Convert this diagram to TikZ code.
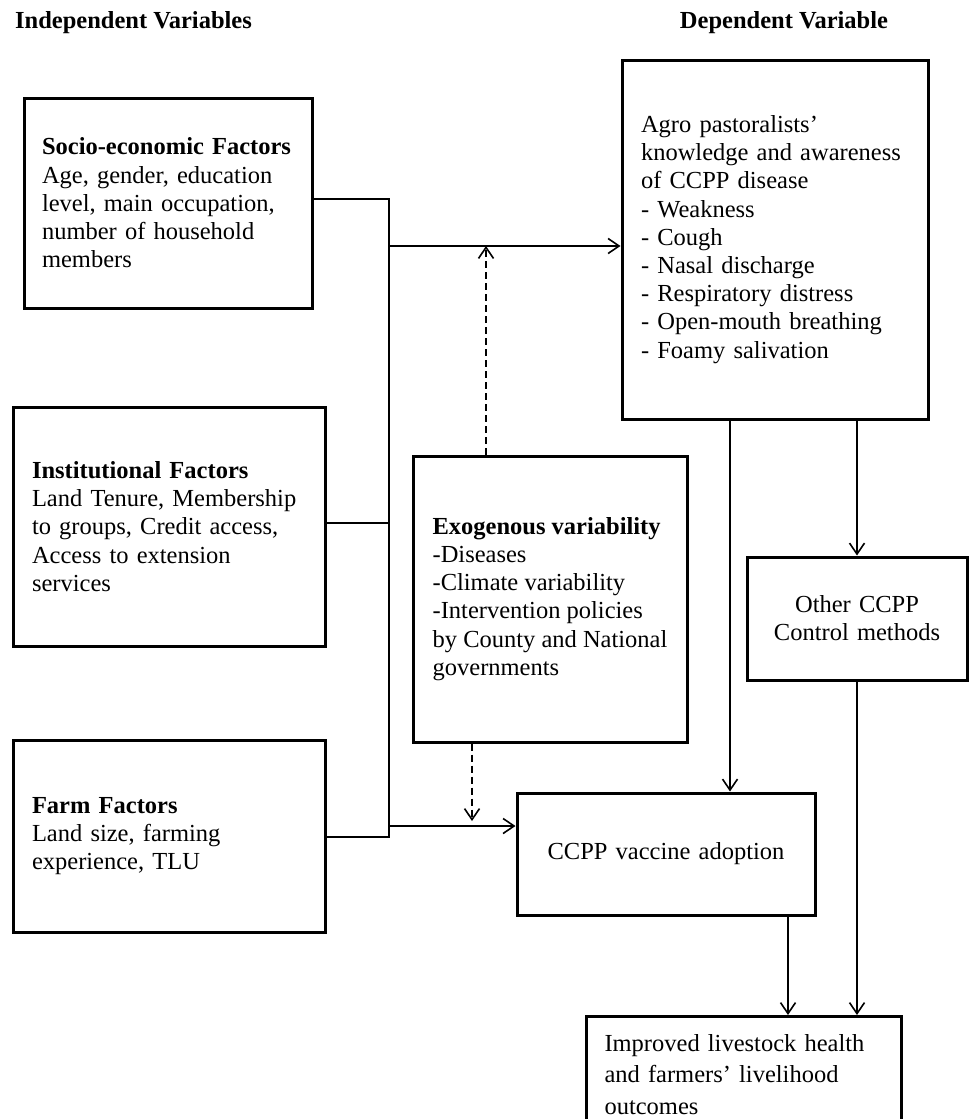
\documentclass[tikz,border=0pt]{standalone}
\usepackage{fontspec}
\setmainfont{Liberation Serif}
\usetikzlibrary{arrows.meta, positioning}

\begin{document}
\begin{tikzpicture}[x=1pt, y=-1pt,
    font=\fontsize{24.5}{28.2}\selectfont,
    box/.style={draw, line width=3pt, align=left, inner xsep=18pt, inner ysep=0pt},
    head/.style={font=\fontsize{24.5}{28.2}\selectfont\bfseries, inner sep=0pt},
    link/.style={line width=1.6pt},
    arr/.style={-{Straight Barb[length=11pt,width=15pt]}, line width=1.6pt},
    dasharr/.style={arr, dash pattern=on 7pt off 4pt}
  ]
  \useasboundingbox (0,0) rectangle (970,1119);
  % headings
  \node[head, anchor=west] (indep) at (15,23) {Independent Variables};
  \node[head] (dep) at (784,23) {Dependent Variable};
  % independent variables
  \node[box, text width=252pt, minimum height=210pt] (socio) at (168,203)
    {\textbf{Socio-economic Factors}\\ Age, gender, education\\ level, main occupation,\\ number of household\\ members};
  \node[box, text width=274pt, inner xsep=19pt, minimum height=239pt] (inst) at (169,526.5)
    {\textbf{Institutional Factors}\\ Land Tenure, Membership\\ to groups, Credit access,\\ Access to extension\\ services};
  \node[box, text width=274pt, inner xsep=19pt, minimum height=192pt] (farm) at (169,836)
    {\textbf{Farm Factors}\\ Land size, farming\\ experience, TLU};
  \node[box, minimum width=274pt, minimum height=286pt] (exo) at (550,599)
    {\textbf{Exogenous variability}\\ -Diseases\\ -Climate variability\\ -Intervention policies\\ by County and National\\ governments};
  % dependent variable and outcomes
  \node[box, text width=268pt, inner xsep=19pt, minimum height=359pt] (agro) at (775,239.5)
    {Agro pastoralists'\\ knowledge and awareness\\ of CCPP disease\\ - Weakness\\ - Cough\\ - Nasal discharge\\ - Respiratory distress\\ - Open-mouth breathing\\ - Foamy salivation};
  \node[box, align=center, text width=190pt, inner xsep=15pt, minimum height=123pt] (other) at (857,618.5)
    {Other CCPP\\ Control methods};
  \node[box, align=center, text width=262pt, minimum height=122pt] (vacc) at (666,854)
    {CCPP vaccine adoption};
  \node[box, anchor=north west, text width=279pt, minimum height=116pt,
    font=\fontsize{24.5}{31.5}\selectfont] (outc) at (585,1015)
    {Improved livestock health\\ and farmers' livelihood\\ outcomes};
  % joining line
  \coordinate (bustop) at (389,199);
  \coordinate (busmid) at (389,523);
  \coordinate (busbot) at (389,837);
  \coordinate (busA) at (389,246);
  \coordinate (busB) at (389,826);
  \coordinate (exoup) at (486,246);
  \coordinate (exodown) at (472,821);
  \draw[link] (socio.east |- bustop) -- (bustop) -- (busbot) -- (farm.east |- busbot);
  \draw[link] (inst.east |- busmid) -- (busmid);
  \draw[arr] (busA) -- (agro.west |- busA);
  \draw[arr] (busB) -- (vacc.west |- busB);
  \draw[dasharr] (exo.north -| exoup) -- (exoup);
  \draw[dasharr] (exo.south -| exodown) -- (exodown);
  % right hand arrows
  \draw[arr] (agro.south -| 730,0) -- (vacc.north -| 730,0);
  \draw[arr] (agro.south -| other.north) -- (other.north);
  \draw[arr] (vacc.south -| 788,0) -- (outc.north -| 788,0);
  \draw[arr] (other.south) -- (outc.north -| other.south);
\end{tikzpicture}
\end{document}
